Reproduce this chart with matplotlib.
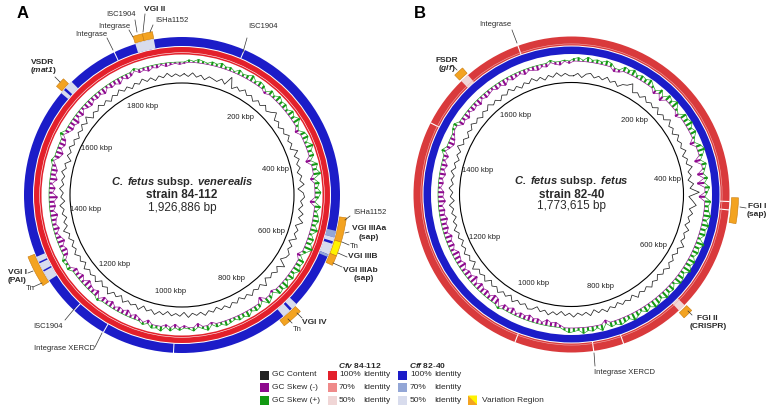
import numpy as np
import matplotlib.pyplot as plt
from matplotlib.patches import Wedge, Rectangle, Polygon
from matplotlib.collections import LineCollection

plt.rcParams['font.family'] = ['Liberation Sans', 'DejaVu Sans']
plt.rcParams['mathtext.fontset'] = 'custom'
plt.rcParams['mathtext.rm'] = 'Liberation Sans'
plt.rcParams['mathtext.bf'] = 'Liberation Sans:bold'
plt.rcParams['mathtext.it'] = 'Liberation Sans:italic'
plt.rcParams['mathtext.bfit'] = 'Liberation Sans:italic:bold'

# genome sizes (kbp) and scale labels
len_a = 1926.886
len_b = 1773.615
ticks_a = [200, 400, 600, 800, 1000, 1200, 1400, 1600, 1800]
ticks_b = [200, 400, 600, 800, 1000, 1200, 1400, 1600]

# GC skew and GC content, 180 windows (2 deg each) clockwise from position 0
skew_a = [-1, 2, 1, 3, 2, 1, 3, 2, 4, 2, 3, 1, 4, 2, 3, 5, 2, 4, 3, -2,
          4, 2, 5, 3, 4, 2, 5, 3, 6, 2, -3, 4, 5, 2, 6, 3, 4, -4, 5, 3,
          6, -3, 4, 2, 5, 3, -4, 5, 2, 4, 5, 3, 6, 2, 5, 4, 7, 3, -3, 5,
          4, 6, 3, 5, 2, 6, 4, 5, -2, 3, 5, -4, 3, 4, 2, 5, 3, 4, 2, 3,
          4, 2, 3, -2, 4, 2, -3, 3, 1, -2, 2, -3, 3, -2, 4, 2, 3, -3, 2, -2,
          -4, -2, -5, -3, -4, -2, -5, -3, -4, 2, -5, -3, -4, -6, -2, -5, -3, -4, 3, 2,
          3, -4, -5, -3, -6, -4, -2, -5, -3, -4, -6, -3, -5, -4, -7, -3, -5, -2, -6, -4,
          -5, -3, 2, -4, -6, -3, -5, -4, 3, -3, -5, -4, -6, -3, -5, -2, -4, -5, -3, -4,
          -3, -5, -2, -4, -3, -5, -2, -4, -3, 2, -3, -2, -4, -2, -3, -1, -3, -2, -1, -2]
gc_a = [1, -1, 2, -1, 1, -2, 1, 0, -1, 2, -1, 6, -2, 1, -1, 2, -1, 1, -2, 1,
        -1, 2, -1, 1, 4, -1, 1, -2, 1, -1, 2, -1, 1, -2, 3, -1, 2, -1, 1, -2,
        1, -1, 2, -3, 1, 2, -1, 1, -2, 2, -1, 3, -2, 1, -1, 2, -3, 1, -1, 2,
        1, -2, 4, -1, 2, -1, 1, -2, 3, -1, 1, -1, 2, -1, 1, -2, 1, -1, 2, -1,
        1, -2, 1, -1, 2, -1, 1, -1, 2, -2, 1, -1, 1, -2, 1, -1, 2, -1, 1, -2,
        2, -1, 1, -1, 2, -2, 1, -1, 3, -1, 1, -2, 2, -1, 1, -1, 2, -2, 1, -1,
        2, -1, 1, -2, 1, -1, 3, -1, 1, -2, 1, -1, 2, -2, 1, -1, 2, -1, 1, -1,
        2, -1, 1, -3, 1, -1, 2, -1, 1, -2, 1, -1, 2, -1, 3, -2, 1, -1, 2, -1,
        1, -2, 1, -1, 2, -1, 1, -2, 1, -1, 2, -1, 1, -2, 1, -1, 2, -1, 1, -1]
skew_b = [2, 3, 1, 4, 2, 3, 2, 4, 3, -3, -2, 4, 3, 5, 2, 4, 3, 5, 2, -3,
          4, -4, 5, 3, 6, 2, -3, 5, 4, 6, 3, 5, 2, -4, 4, 6, 3, -5, 4, 2,
          -5, 3, -6, 4, 2, -5, 5, 3, 4, 6, 3, 6, 4, 5, 2, 7, 4, 5, 3, 6,
          4, 7, 3, 5, 6, 2, 5, 4, 6, 3, 5, 6, 3, 5, 2, 4, 6, 3, 4, 5,
          3, 4, -3, 5, 2, 4, 3, 5, 2, 3, 4, 2, -2, -4, -3, -5, -2, -4, -3, -5,
          -3, -4, -2, -5, -3, -4, 2, -5, -6, -3, -5, -4, -6, -3, -7, -4, -5, -3, -6, -4,
          -5, -6, -3, -5, -4, -6, -3, -5, -4, -6, -4, -5, -3, -6, -4, -5, -2, -4, -3, -5,
          -3, -5, -2, -4, 3, -3, -5, -4, -2, 2, 3, -4, -3, -5, -2, -4, -3, -5, -2, -4,
          -3, -2, -4, -3, -5, -2, -4, -3, -2, -4, -2, -3, -4, -2, -3, 2, -2, -3, 1, -2]
gc_b = [-1, 1, -2, 1, 2, -1, 1, -1, 2, -1, 1, -2, 1, 2, 5, -1, 1, -1, 2, -1,
        1, -1, 2, -2, 1, -1, 3, -1, 1, -2, 2, -1, 1, -1, 2, -2, 1, -1, 3, -1,
        1, -2, 2, -1, 6, -2, 1, 4, -1, 2, -1, 1, -2, 2, -1, 1, -1, 3, -1, 1,
        -2, 1, -1, 2, -1, 1, -2, 1, -1, 2, -1, 1, -1, 2, -2, 1, -1, 1, -2, 1,
        -1, 2, -1, 1, -2, 2, -1, 1, -1, 2, -1, 1, -2, 1, -1, 2, -1, 1, -2, 1,
        2, -1, 1, -1, 2, -2, 1, -1, 2, -1, 1, -2, 2, -1, 1, -1, 3, -2, 1, -1,
        2, -1, 1, -2, 1, -1, 2, -1, 1, -2, 1, -1, 2, -2, 1, -1, 2, -1, 1, -1,
        2, -1, 1, -2, 1, -1, 3, -1, 1, -2, 1, -1, 2, -1, 1, -2, 1, -1, 2, -1,
        1, -2, 1, -1, 2, -1, 1, -2, 1, -1, 2, -1, 1, -2, 1, -1, 2, -1, 1, -1]

# low identity stretches on the comparison ring: (start kbp, end kbp, identity %), 0 = break line
blue_low_a = [(1835, 1872, 50), (1660, 1668, 50), (1673, 1690, 50), (123.5, 125.5, 0),
              (1790, 1792, 0), (552, 565, 70), (565, 573, 50), (578, 600, 50), (600, 605, 70),
              (1270, 1290, 50), (1293, 1308, 50), (1311, 1322, 50), (1193, 1195, 0),
              (1122, 1124, 0), (715, 728, 50), (733, 750, 50), (979, 981, 0)]
red_low_b = [(1556, 1572, 50), (1675, 1677, 0), (455, 457, 0), (470, 472, 0),
             (662, 676, 50), (1462, 1464, 0), (989, 991, 0), (791, 793, 0), (846, 848, 0)]

# variation regions: (start kbp, end kbp, kind)
var_a = [(1835, 1853, 'o'), (1853, 1872, 'o'), (1664, 1683, 'o'), (524, 570, 'o'),
         (570, 597, 'y'), (597, 616, 'o'), (1268, 1328, 'o'), (720, 760, 'o')]
var_b = [(1555, 1573, 'o'), (449, 493, 'o'), (660, 678, 'o')]

blue, blue70, blue50 = '#1c1cc8', '#93a6d6', '#d8dced'
red, red70, red50 = '#e3202b', '#ef8a8a', '#f0d6d6'
red_b = '#d93a3c'
orange, yellow = '#f3a321', '#fff200'
c_gc, c_neg, c_pos = '#222222', '#8e0a8e', '#139a13'

fig = plt.figure(figsize=(7.75, 4.16), dpi=100)
ax = fig.add_axes([0, 0, 1, 1])
ax.set_xlim(0, 775)
ax.set_ylim(416, 0)
ax.axis('off')


def pt(cx, cy, r, a):
    a = np.deg2rad(a)
    return cx + r * np.sin(a), cy - r * np.cos(a)


def arc(cx, cy, r_in, r_out, a1, a2, color, **kw):
    ax.add_patch(Wedge((cx, cy), r_out, a1 - 90, a2 - 90, width=r_out - r_in,
                       facecolor=color, lw=0, **kw))


def ring(cx, cy, r_in, r_out, color, L, low, c70, c50):
    arc(cx, cy, r_in, r_out, 0, 360, color)
    for s, e, idt in low:
        c = {70: c70, 50: c50, 0: 'white'}[idt]
        arc(cx, cy, r_in - 0.3, r_out + 0.3, 360 * s / L, 360 * e / L, c)


def skew_track(cx, cy, vals, base, scale):
    n = len(vals)
    ang = (np.arange(n) + 0.5) * 360 / n
    v = np.asarray(vals) * scale
    x0, y0 = pt(cx, cy, base, ang)
    x1, y1 = pt(cx, cy, base + v, ang)
    segs = [[(a, b), (c, d)] for a, b, c, d in zip(x0, y0, x1, y1)]
    cols = [c_pos if k > 0 else c_neg for k in v]
    ax.add_collection(LineCollection(segs, colors=cols, linewidths=1.5))
    # jagged outline joining the window tips
    ang2 = np.append(ang, ang[0] + 360)
    v2 = np.append(v, v[0])
    for part, col in ((np.maximum(v2, 0), c_pos), (np.minimum(v2, 0), c_neg)):
        xo, yo = pt(cx, cy, base + part, ang2)
        ax.plot(xo, yo, color=col, lw=0.45)


def gc_track(cx, cy, vals, base, scale):
    n = len(vals)
    ang = (np.arange(n + 1) + 0.5) * 360 / n
    v = np.append(vals, vals[0]) * scale
    x, y = pt(cx, cy, base + v, ang)
    ax.plot(x, y, color=c_gc, lw=0.55)


def variation(cx, cy, L, regions, r_in, r_out):
    for s, e, k in regions:
        arc(cx, cy, r_in, r_out, 360 * s / L, 360 * e / L,
            orange if k == 'o' else yellow, edgecolor='#c87a0c')
        ax.patches[-1].set_linewidth(0.4)


def label(x, y, txt, bold=False, ha='center', size=None):
    ax.text(x, y, txt, fontsize=size or (6 if bold else 5.5),
            fontweight='bold' if bold else 'normal', ha=ha, va='center', color='#2a2a2a')


def leader(x1, y1, x2, y2):
    ax.plot([x1, x2], [y1, y2], color='#333333', lw=0.5)


# ---------------- panel A ----------------
cxa, cya = 182, 195
ring(cxa, cya, 149, 158, blue, len_a, blue_low_a, blue70, blue50)
arc(cxa, cya, 140.5, 148, 0, 360, red)
ax.add_patch(plt.Circle((cxa, cya), 142.3, fill=False, ec='white', lw=0.4))
skew_track(cxa, cya, skew_a, 133, 1.2)
gc_track(cxa, cya, gc_a, 120, 1.3)
ax.add_patch(plt.Circle((cxa, cya), 112, fill=False, ec='black', lw=0.8))
variation(cxa, cya, len_a, var_a, 159, 166)
for t in ticks_a:
    x, y = pt(cxa, cya, 97, 360 * t / len_a)
    ax.text(x, y, f'{t} kbp', fontsize=5.5, ha='center', va='center', color='#222222')
label(cxa, 182, r'$\mathbfit{C.\ fetus}\ \mathbf{subsp.}\ \mathbfit{venerealis}$', size=8)
label(cxa, 195.5, 'strain 84-112', True, size=8.5)
label(cxa, 207.5, '1,926,886 bp', size=8.5)
ax.text(23, 13, 'A', fontsize=12, fontweight='bold', ha='center', va='center')

label(121, 15, 'ISC1904'); leader(135, 20, 137, 32)
label(155, 9.5, 'VGI II', True); leader(145, 14, 143, 32)
label(155, 21, 'ISHa1152', ha='left'); leader(153, 25, 150, 32)
label(114, 26, 'Integrase'); leader(129, 30, 133, 37)
label(91, 35, 'Integrase'); leader(107, 38, 113, 50)
label(263, 27, 'ISC1904'); leader(247, 38, 243, 52)
label(43, 62.5, 'VSDR', True)
label(43, 70.5, r'$\mathbf{(}\mathbfit{mat1}\mathbf{)}$', size=6)
leader(55, 77, 60, 82)
label(353, 213, 'ISHa1152', ha='left'); leader(350, 216, 345, 220)
label(352, 229, 'VGI IIIAa', True, ha='left'); label(369, 237.5, '(sap)', True)
leader(349, 232, 345, 233)
label(350, 246.5, 'Tn', ha='left'); leader(342, 242, 349, 245)
label(348, 257, 'VGI IIIB', True, ha='left'); leader(338, 253, 347, 257)
label(343, 270, 'VGI IIIAb', True, ha='left'); label(364, 279, '(sap)', True)
leader(333, 263, 342, 267)
label(27, 272, 'VGI I', True, ha='right'); label(17, 280.5, '(PAI)', True)
leader(28, 273, 33, 271)
label(30, 289, 'Tn'); leader(33, 287, 42, 283)
label(48, 326, 'ISC1904'); leader(65, 320, 75, 308)
label(64, 349, 'Integrase XERCD'); leader(95, 347, 102, 333)
label(302, 322, 'VGI IV', True, ha='left'); leader(302, 318, 297, 313)
label(297, 329.5, 'Tn'); leader(292, 323, 288, 319)

# ---------------- panel B ----------------
cxb, cyb = 571.5, 194.5
ring(cxb, cyb, 149, 158, red_b, len_b, red_low_b, red70, red50)
ax.add_patch(plt.Circle((cxb, cyb), 150.6, fill=False, ec='#f4b0b0', lw=0.4))
arc(cxb, cyb, 140.5, 148, 0, 360, blue)
skew_track(cxb, cyb, skew_b, 133.5, 1.2)
gc_track(cxb, cyb, gc_b, 120, 1.3)
ax.add_patch(plt.Circle((cxb, cyb), 112, fill=False, ec='black', lw=0.8))
variation(cxb, cyb, len_b, var_b, 160, 167)
for t in ticks_b:
    x, y = pt(cxb, cyb, 97, 360 * t / len_b)
    ax.text(x, y, f'{t} kbp', fontsize=5.5, ha='center', va='center', color='#222222')
label(cxb, 181, r'$\mathbfit{C.\ fetus}\ \mathbf{subsp.}\ \mathbfit{fetus}$', size=8)
label(cxb, 194.5, 'strain 82-40', True, size=8.5)
label(cxb, 206.5, '1,773,615 bp', size=8.5)
ax.text(420, 13, 'B', fontsize=12, fontweight='bold', ha='center', va='center')

label(495, 25, 'Integrase'); leader(512, 30, 517, 43)
label(447, 60.5, 'FSDR', True)
label(447, 68.5, r'$\mathbf{(}\mathbfit{glf}\mathbf{)}$', size=6)
leader(453, 66, 457, 70)
label(748, 206, 'FGI I', True, ha='left'); label(757, 214, '(sap)', True)
leader(740, 207, 746, 208)
label(707, 318, 'FGI II', True); label(708, 327, '(CRISPR)', True)
leader(692, 315, 688, 311)
label(594, 373, 'Integrase XERCD', ha='left'); leader(594, 353, 595, 366)

# ---------------- legend ----------------
rows = [375, 387.5, 400]
sq = 9
for y, c, t in zip(rows, [c_gc, c_neg, c_pos], ['GC Content', 'GC Skew (-)', 'GC Skew (+)']):
    ax.add_patch(Rectangle((260, y - sq / 2), sq, sq, facecolor=c, lw=0))
    ax.text(272, y, t, fontsize=6, va='center', color='#2a2a2a')
label(338, 365, r'$\mathbfit{Cfv}\ \mathbf{84}$-$\mathbf{112}$', ha='left', size=6)
label(409, 365, r'$\mathbfit{Cff}\ \mathbf{82}$-$\mathbf{40}$', ha='left', size=6)
for y, p, cr, cb in zip(rows, ['100%', '70%', '50%'], [red, red70, red50], [blue, blue70, blue50]):
    ax.add_patch(Rectangle((328, y - sq / 2), sq, sq, facecolor=cr, lw=0))
    ax.add_patch(Rectangle((398, y - sq / 2), sq, sq, facecolor=cb, lw=0))
    ax.text(339, y, p, fontsize=6, va='center', color='#2a2a2a')
    ax.text(363, y, 'Identity', fontsize=6, va='center', color='#2a2a2a')
    ax.text(410, y, p, fontsize=6, va='center', color='#2a2a2a')
    ax.text(434, y, 'Identity', fontsize=6, va='center', color='#2a2a2a')
ax.add_patch(Rectangle((468, 395.5), sq, sq, facecolor=orange, lw=0))
ax.add_patch(Polygon([(468 + sq, 395.5), (468 + sq, 395.5 + sq), (468, 395.5)],
                     closed=True, facecolor=yellow, lw=0))
ax.text(482, 400, 'Variation Region', fontsize=6, va='center', color='#2a2a2a')

fig.savefig('out.png', dpi=100)
